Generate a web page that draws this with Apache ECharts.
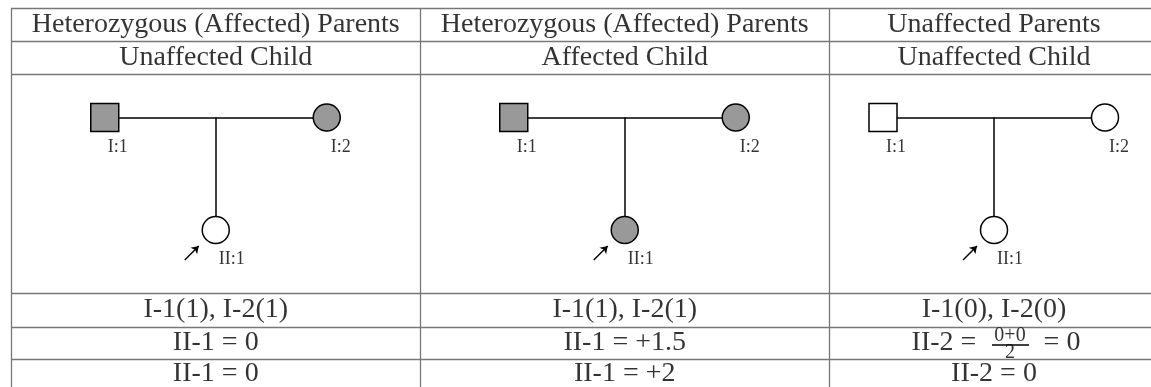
<!DOCTYPE html>
<html>
<head>
<meta charset="utf-8">
<script src="https://cdn.jsdelivr.net/npm/echarts@6/dist/echarts.min.js"></script>
<style>
  html, body { margin: 0; padding: 0; background: #fff; }
  #chart { width: 1151px; height: 387px; }
</style>
</head>
<body>
<div id="chart"></div>
<script>
// table content
var headers = ['Heterozygous (Affected) Parents', 'Heterozygous (Affected) Parents', 'Unaffected Parents'];
var childRows = ['Unaffected Child', 'Affected Child', 'Unaffected Child'];
var parentScores = ['I-1(1), I-2(1)', 'I-1(1), I-2(1)', 'I-1(0), I-2(0)'];
var expected = ['II-1 = 0', 'II-1 = +1.5', null];
var fraction = { lhs: 'II-2 =', num: '0+0', den: '2', rhs: '= 0' };   // third column, expected row
var observed = ['II-1 = 0', 'II-1 = +2', 'II-2 = 0'];

// pedigree: affected status of father, mother, child per column
var fatherAffected = [true, true, false];
var motherAffected = [true, true, false];
var childAffected = [false, true, false];
var memberIds = ['I:1', 'I:2', 'II:1'];

// layout (pixels)
var colEdges = [11, 420.5, 829, 1159];
var rowEdges = [8.5, 41.5, 74.5, 293, 327, 359, 392];
var lineGray = '#777';
var fillGray = '#999';
var font = 'Liberation Serif';

var tableLines = [], pedLines = [], arrows = [], squares = [], circles = [], texts = [], smallTexts = [];

rowEdges.slice(0, 6).forEach(function (y) {
    tableLines.push({ coords: [[colEdges[0], y], [1151, y]] });
});
colEdges.forEach(function (x) {
    tableLines.push({ coords: [[x, rowEdges[0]], [x, 387]] });
});

function rowMid(i) { return (rowEdges[i] + rowEdges[i + 1]) / 2; }

headers.forEach(function (h, c) {
    var cx = (colEdges[c] + colEdges[c + 1]) / 2;
    texts.push({ value: [cx, rowMid(0)], label: { formatter: h } });
    texts.push({ value: [cx, rowMid(1)], label: { formatter: childRows[c] } });
    texts.push({ value: [cx, rowMid(3)], label: { formatter: parentScores[c] } });
    if (expected[c]) {
        texts.push({ value: [cx, rowMid(4)], label: { formatter: expected[c] } });
    } else {
        var y4 = rowMid(4);
        texts.push({ value: [cx - 50, y4], label: { formatter: fraction.lhs } });
        texts.push({ value: [cx + 68, y4], label: { formatter: fraction.rhs } });
        smallTexts.push({ value: [cx + 16, y4 - 7], label: { formatter: fraction.num, fontSize: 20 } });
        smallTexts.push({ value: [cx + 16, y4 + 10], label: { formatter: fraction.den, fontSize: 20 } });
        pedLines.push({ coords: [[cx - 2, y4 + 1.5], [cx + 35, y4 + 1.5]] });
    }
    texts.push({ value: [cx, rowMid(5) - 2], label: { formatter: observed[c] } });

    // pedigree
    var fx = cx - 111, mx = cx + 111, py = 117.5, ky = 230;
    squares.push({ value: [fx, py], itemStyle: { color: fatherAffected[c] ? fillGray : '#fff' } });
    circles.push({ value: [mx, py], itemStyle: { color: motherAffected[c] ? fillGray : '#fff' } });
    circles.push({ value: [cx, ky], itemStyle: { color: childAffected[c] ? fillGray : '#fff' } });
    pedLines.push({ coords: [[fx + 14, py], [mx - 13.5, py]] });
    pedLines.push({ coords: [[cx, py], [cx, ky - 13.5]] });
    arrows.push({ coords: [[cx - 31, ky + 30], [cx - 17, ky + 16]] });
    smallTexts.push({ value: [fx + 13, 147], label: { formatter: memberIds[0] } });
    smallTexts.push({ value: [mx + 14, 147], label: { formatter: memberIds[1] } });
    smallTexts.push({ value: [cx + 16, 259], label: { formatter: memberIds[2] } });
});

var chart = echarts.init(document.getElementById('chart'));
chart.setOption({
    animation: false,
    grid: { left: 0, right: 0, top: 0, bottom: 0 },
    xAxis: { type: 'value', min: 0, max: 1151, show: false },
    yAxis: { type: 'value', min: 0, max: 387, inverse: true, show: false },
    series: [
        {
            type: 'lines', coordinateSystem: 'cartesian2d', silent: true,
            lineStyle: { color: lineGray, width: 1.3, opacity: 1 },
            data: tableLines
        },
        {
            type: 'lines', coordinateSystem: 'cartesian2d', silent: true,
            lineStyle: { color: '#000', width: 1.5, opacity: 1 },
            data: pedLines
        },
        {
            type: 'lines', coordinateSystem: 'cartesian2d', silent: true,
            symbol: ['none', 'arrow'], symbolSize: 7,
            lineStyle: { color: '#000', width: 1.5, opacity: 1 },
            data: arrows
        },
        {
            type: 'scatter', symbol: 'rect', symbolSize: 28, silent: true,
            itemStyle: { borderColor: '#000', borderWidth: 1.5, opacity: 1 },
            data: squares
        },
        {
            type: 'scatter', symbol: 'circle', symbolSize: 27, silent: true,
            itemStyle: { borderColor: '#000', borderWidth: 1.5, opacity: 1 },
            data: circles
        },
        {
            type: 'scatter', symbolSize: 0, silent: true,
            label: { show: true, position: 'inside', color: '#000', fontFamily: font, fontSize: 28 },
            data: texts
        },
        {
            type: 'scatter', symbolSize: 0, silent: true,
            label: { show: true, position: 'inside', color: '#000', fontFamily: font, fontSize: 18 },
            data: smallTexts
        }
    ]
});
</script>
</body>
</html>
